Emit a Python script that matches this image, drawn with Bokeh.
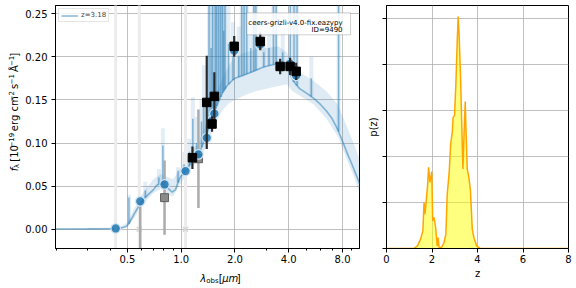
import numpy as np
from bokeh.plotting import figure
from bokeh.layouts import row, column
from bokeh.models import (Range1d, FixedTicker, PrintfTickFormatter, Label, BoxAnnotation,
                          Legend, LegendItem, CustomJSTickFormatter)
from bokeh.embed import file_html
from bokeh.resources import INLINE

FONT = "DejaVu Sans"

# ---------------- data ----------------
sed_wave = [0.198, 0.30, 0.40, 0.46, 0.49, 0.51, 0.53, 0.55, 0.58, 0.60, 0.63, 0.66, 0.70,
            0.73, 0.77, 0.82, 0.86, 0.89, 0.93, 0.97, 1.00, 1.05, 1.10, 1.15, 1.20, 1.25,
            1.30, 1.35, 1.40, 1.45, 1.50, 1.55, 1.60, 1.70, 1.80, 1.90, 2.00, 2.20, 2.40,
            2.60, 2.80, 3.00, 3.30, 3.60, 3.90, 4.10, 4.30, 4.60, 5.00, 5.50, 6.00, 6.50,
            7.00, 7.50, 8.00, 8.50, 9.00, 9.50, 10.0]
sed_flux = [0.0004, 0.0005, 0.0007, 0.0015, 0.003, 0.0065, 0.013, 0.019, 0.027, 0.032,
            0.037, 0.041, 0.046, 0.051, 0.053, 0.050, 0.046, 0.043, 0.046, 0.057, 0.062,
            0.066, 0.072, 0.080, 0.084, 0.087, 0.095, 0.103, 0.112, 0.121, 0.130, 0.138,
            0.146, 0.158, 0.166, 0.171, 0.175, 0.178, 0.181, 0.184, 0.187, 0.189, 0.191,
            0.192, 0.189, 0.178, 0.170, 0.163, 0.158, 0.152, 0.145, 0.137, 0.128, 0.116,
            0.102, 0.088, 0.076, 0.064, 0.052]

band_wave = [0.198, 0.45, 0.50, 0.55, 0.60, 0.65, 0.70, 0.77, 0.85, 0.90, 0.97, 1.05, 1.15,
             1.25, 1.35, 1.45, 1.55, 1.70, 1.85, 2.0, 2.3, 2.6, 3.0, 3.5, 3.9, 4.2, 4.6,
             5.5, 6.5, 7.5, 8.5, 9.3, 10.0]
band_lo = [0.0, 0.0005, 0.003, 0.014, 0.027, 0.035, 0.042, 0.047, 0.040, 0.038, 0.050,
           0.060, 0.072, 0.080, 0.092, 0.108, 0.122, 0.138, 0.146, 0.150, 0.156, 0.160,
           0.163, 0.166, 0.168, 0.160, 0.155, 0.145, 0.128, 0.108, 0.080, 0.060, 0.040]
band_hi = [0.001, 0.002, 0.008, 0.025, 0.040, 0.050, 0.058, 0.064, 0.060, 0.058, 0.068,
           0.078, 0.092, 0.100, 0.118, 0.138, 0.155, 0.175, 0.190, 0.200, 0.205, 0.208,
           0.210, 0.212, 0.205, 0.192, 0.182, 0.172, 0.160, 0.145, 0.118, 0.098, 0.080]

# emission-line spikes: wavelength, template peak, band peak
line_wave = [0.51, 0.63, 0.75, 0.79, 0.96, 1.04, 1.11, 1.162, 1.22, 1.30, 1.34, 1.43, 1.47,
             1.50, 1.55, 1.58, 1.62, 1.66, 1.70, 1.73, 1.76, 1.84, 1.95, 2.10, 2.18, 2.25,
             2.33, 2.45, 2.55, 2.62, 2.90, 3.10, 3.28, 3.40, 3.70, 4.08, 4.28, 4.45, 5.35,
             7.60]
line_top = [0.037, 0.045, 0.060, 0.097, 0.068, 0.075, 0.090, 0.128, 0.100, 0.125, 0.150,
            0.30, 0.210, 0.30, 0.30, 0.30, 0.30, 0.30, 0.30, 0.230, 0.30, 0.215, 0.205,
            0.200, 0.30, 0.30, 0.30, 0.210, 0.30, 0.30, 0.205, 0.210, 0.30, 0.30, 0.205,
            0.30, 0.30, 0.30, 0.175, 0.30]
line_band_top = [0.040, 0.055, 0.070, 0.117, 0.072, 0.090, 0.105, 0.153, 0.130, 0.150,
                 0.190, 0.30, 0.260, 0.30, 0.30, 0.30, 0.30, 0.30, 0.30, 0.30, 0.30, 0.260,
                 0.240, 0.235, 0.30, 0.30, 0.30, 0.250, 0.30, 0.30, 0.230, 0.235, 0.30,
                 0.30, 0.230, 0.30, 0.30, 0.30, 0.200, 0.30]

obs_wave = [1.156, 1.39, 1.488, 1.533, 1.98, 2.77, 3.58, 4.07, 4.40]
obs_flux = [0.083, 0.147, 0.122, 0.154, 0.212, 0.2176, 0.1887, 0.1887, 0.183]
obs_err = [0.013, 0.054, 0.009, 0.028, 0.012, 0.010, 0.009, 0.010, 0.010]

low_wave = [0.59, 0.807, 1.249]
low_flux = [-0.035, 0.0367, 0.0818]
low_err = [0.065, 0.043, 0.057]

bad_wave = [0.43, 0.583, 1.057]
bad_flux = [0.0, 0.0, 0.0]
bad_err = [1.0, 1.0, 1.0]

mod_wave = [0.43, 0.59, 0.807, 1.057, 1.156, 1.249, 1.39, 1.488, 1.533, 1.98, 2.77,
            3.58, 4.07, 4.40]
mod_flux = [0.001, 0.0324, 0.052, 0.0675, 0.0837, 0.0868, 0.106, 0.126, 0.134, 0.207,
            0.214, 0.188, 0.192, 0.178]

pz_z = [0.0, 1.20, 1.36, 1.50, 1.60, 1.65, 1.69, 1.74, 1.80, 1.85, 1.91, 1.95, 1.99, 2.03,
        2.09, 2.16, 2.23, 2.27, 2.31, 2.35, 2.42, 2.53, 2.61, 2.67, 2.76, 2.82, 2.89, 2.93,
        2.99, 3.05, 3.11, 3.15, 3.19, 3.26, 3.31, 3.36, 3.40, 3.46, 3.50, 3.55, 3.62, 3.69,
        3.77, 3.84, 3.96, 4.13, 5.0, 6.0, 7.0, 8.0]
pz_p = [0.0, 0.0, 0.058, 0.203, 0.384, 1.0, 0.746, 1.0, 1.326, 1.761, 1.435, 1.543, 1.667,
        0.601, 0.674, 0.457, 0.058, 0.239, 0.022, 0.022, 0.022, 0.13, 0.312, 1.181, 1.688,
        2.268, 2.522, 2.848, 2.884, 3.572, 4.514, 5.036, 4.659, 3.645, 2.630, 1.725, 2.341,
        3.188, 2.486, 1.725, 1.543, 1.254, 0.42, 0.239, 0.058, 0.0, 0.0, 0.0, 0.0, 0.0]

z_label = "z=3.18"
info_lines = ["ceers-grizli-v4.0-fix.eazypy", "ID=9490"]

xticks_left = [0.5, 1, 2, 4, 8]
xminor_left = [0.2, 0.3, 0.4, 0.6, 0.7, 0.8, 0.9, 3, 5, 6, 7, 9]
yticks_left = [0.0, 0.05, 0.10, 0.15, 0.20, 0.25]
xticks_right = [0, 2, 4, 6, 8]
yticks_right = [0, 1, 2, 3, 4, 5]

# ---------------- layout constants (window pixels) ----------------
X0, X1 = 0.198, 9.95
Y0, Y1 = -0.0222, 0.2593
FL, FR, FT, FB = 54, 359, 5, 248
YLAB_W = 22     # strip holding the y label
XLAB_H = 18     # strip holding the x label
P1_W = 362 - YLAB_W
P1_H = 288 - XLAB_H


def px2lam(px):
    return X0 * np.exp((px - FL) * np.log(X1 / X0) / (FR - FL))


def py2f(py):
    return Y0 + (FB - py) * (Y1 - Y0) / (FB - FT)


def style_axes(p):
    p.background_fill_color = "white"
    p.border_fill_color = "white"
    p.outline_line_color = "black"
    p.outline_line_width = 1
    for ax in (p.xaxis[0], p.yaxis[0]):
        ax.axis_line_color = "black"
        ax.major_tick_line_color = "black"
        ax.minor_tick_line_color = "black"
        ax.major_tick_out = 4
        ax.major_tick_in = 0
        ax.minor_tick_out = 2
        ax.minor_tick_in = 0
        ax.major_label_text_font = FONT
        ax.major_label_text_font_size = "10px"
        ax.major_label_text_color = "black"
        ax.axis_label_text_font = FONT
        ax.axis_label_text_font_size = "10px"
        ax.axis_label_text_font_style = "normal"
        ax.axis_label_text_color = "black"
    for g in (p.xgrid[0], p.ygrid[0]):
        g.grid_line_color = "#b0b0b0"
        g.grid_line_width = 0.8


def text_strip(width, height, x_start, y_top):
    """blank figure whose data units equal window pixels (y measured downward)"""
    f = figure(width=width, height=height, x_range=Range1d(x_start, x_start + width),
               y_range=Range1d(y_top + height, y_top), x_axis_location=None,
               y_axis_location=None, output_backend="svg", toolbar_location=None, tools="",
               min_border_left=0, min_border_right=0, min_border_top=0,
               min_border_bottom=0)
    f.outline_line_color = None
    f.background_fill_color = "white"
    f.border_fill_color = "white"
    f.grid.visible = False
    return f


def piece(fig, text, px, py, size, style="normal", angle=0.0):
    fig.add_layout(Label(x=px, y=py, text=text, text_font=FONT,
                         text_font_size=f"{size}px", text_font_style=style, angle=angle,
                         text_align="left", text_baseline="alphabetic",
                         text_color="black"))


# ---------------- SED panel ----------------
p1 = figure(width=P1_W, height=P1_H, x_axis_type="log",
            x_range=Range1d(X0, X1), y_range=Range1d(Y0, Y1),
            output_backend="svg", toolbar_location=None, tools="",
            min_border_left=FL - YLAB_W, min_border_right=362 - FR, min_border_top=FT,
            min_border_bottom=P1_H - FB)
style_axes(p1)
p1.xaxis.ticker = FixedTicker(ticks=xticks_left, minor_ticks=xminor_left)
p1.xaxis.formatter = PrintfTickFormatter(format="%.1f")
p1.yaxis.ticker = FixedTicker(ticks=yticks_left)
p1.yaxis.formatter = PrintfTickFormatter(format="%.2f")
p1.xaxis.major_label_standoff = 2
p1.yaxis.major_label_standoff = 4

blue = "#1f77b4"

p1.varea(x=band_wave, y1=band_lo, y2=band_hi, fill_color=blue, fill_alpha=0.15)
lw = np.array(line_wave)
base = np.interp(lw, sed_wave, sed_flux)
p1.segment(x0=lw, y0=base, x1=lw, y1=line_band_top, line_color=blue, line_alpha=0.13,
           line_width=4)

bw = np.array(bad_wave)
bf = np.array(bad_flux)
be = np.array(bad_err)
p1.segment(x0=bw, y0=bf - be, x1=bw, y1=bf + be, line_color="#ececec", line_width=3)

sed_r = p1.line(sed_wave, sed_flux, line_color=blue, line_alpha=0.5, line_width=1.6)
p1.segment(x0=lw, y0=base, x1=lw, y1=line_top, line_color=blue, line_alpha=0.5,
           line_width=1.5)

p1.scatter(bw, bf, marker="x", size=7, line_color="#d5d5d5", line_width=1.5)

lw2 = np.array(low_wave)
lf = np.array(low_flux)
le = np.array(low_err)
p1.segment(x0=lw2, y0=lf - le, x1=lw2, y1=lf + le, line_color="#ababab", line_width=2.5)
p1.scatter(lw2, lf, marker="square", size=8, fill_color="#8a8a8a", line_color="#5f5f5f",
           line_width=1)

p1.scatter(mod_wave, mod_flux, marker="circle", size=9.5, fill_color=blue, fill_alpha=0.85,
           line_color="#d6e6f2", line_width=1.2)

ow = np.array(obs_wave)
of = np.array(obs_flux)
oe = np.array(obs_err)
p1.segment(x0=ow, y0=of - oe, x1=ow, y1=of + oe, line_color="#2a2a2a", line_width=2.2)
p1.scatter(ow, of, marker="square", size=8.5, fill_color="black", line_color="black")

legend = Legend(items=[LegendItem(label=z_label, renderers=[sed_r])], location="top_left",
                label_text_font=FONT, label_text_font_size="7px", glyph_width=17,
                glyph_height=7, label_height=7, label_standoff=3, padding=2, margin=3,
                spacing=0, border_line_color="#cccccc", border_line_width=1,
                background_fill_alpha=0.8)
p1.add_layout(legend)

p1.add_layout(BoxAnnotation(left=px2lam(246), right=px2lam(350), top=py2f(12.3),
                            bottom=py2f(34.3), fill_color="white", fill_alpha=0.85,
                            line_color="#666666", line_width=1, level="annotation"))
for txt, base_py in zip(info_lines, (22.5, 29.5)):
    p1.add_layout(Label(x=px2lam(342), y=py2f(base_py), text=txt, text_font=FONT,
                        text_font_size="7px", text_align="right",
                        text_baseline="alphabetic", text_color="black"))

# ---------------- y-label strip ----------------
ylab = text_strip(YLAB_W, 288, 0, 0)
# (text, font px, shift across baseline, style, gap before, advance)
ypieces = [("f", 10, 0.0, "italic", 0.0, 3.5), ("\u03bb", 7, 2.0, "normal", 0.0, 4.3),
           ("[10", 10, 0.0, "normal", 3.6, 16.8), ("\u221219", 7, -4.0, "normal", 0.0, 15.2),
           ("erg cm", 10, 0.0, "normal", 4.2, 35.2), ("\u22122", 7, -4.0, "normal", 0.0, 10.6),
           ("s", 10, 0.0, "normal", 4.2, 5.4), ("\u22121", 7, -4.0, "normal", 0.0, 10.6),
           ("\u00c5", 10, 0.0, "normal", 4.2, 7.0), ("\u22121", 7, -4.0, "normal", 0.0, 10.6),
           ("]", 10, 0.0, "normal", 0.5, 3.9)]
cur = 196.5
for text, size, shift, style, gap, adv in ypieces:
    cur -= gap
    piece(ylab, text, 14.0 + shift, cur, size, style, angle=np.pi / 2)
    cur -= adv

# ---------------- x-label strip ----------------
xlab = text_strip(P1_W, XLAB_H, YLAB_W, P1_H)
piece(xlab, "\u03bb", 184.0, 278.0, 10, "italic")
piece(xlab, "obs", 190.5, 280.5, 7)
piece(xlab, "[", 204.5, 278.0, 10)
piece(xlab, "\u03bcm", 208.4, 278.0, 10, "italic")
piece(xlab, "]", 224.6, 278.0, 10)

# ---------------- p(z) panel ----------------
p2 = figure(width=214, height=288, x_range=Range1d(0, 8), y_range=Range1d(0, 5.275),
            output_backend="svg", toolbar_location=None, tools="",
            min_border_left=24, min_border_right=8, min_border_top=FT,
            min_border_bottom=288 - FB)
style_axes(p2)
p2.xaxis.ticker = FixedTicker(ticks=xticks_right)
p2.yaxis.ticker = FixedTicker(ticks=yticks_right)
p2.yaxis.formatter = CustomJSTickFormatter(code="return ''")
p2.xaxis.axis_label = "z"
p2.yaxis.axis_label = "p(z)"
p2.xaxis.major_label_standoff = 2
p2.xaxis.axis_label_standoff = 2
p2.yaxis.major_label_standoff = 0
p2.yaxis.axis_label_standoff = 4

p2.varea(x=pz_z, y1=0, y2=pz_p, fill_color="yellow", fill_alpha=0.5)
p2.line(pz_z, pz_p, line_color="orange", line_width=1.5)

layout = row(ylab, column(p1, xlab), p2)
open("out.html", "w").write(file_html(layout, INLINE))
